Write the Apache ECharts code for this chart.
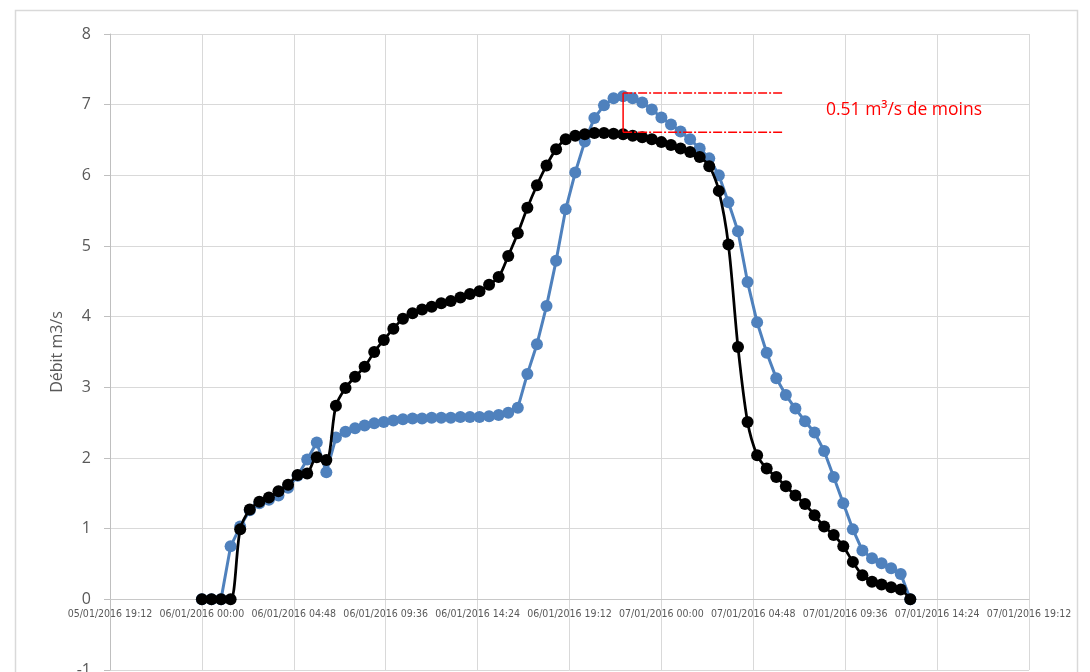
<!DOCTYPE html>
<html>
<head>
<meta charset="utf-8">
<script src="https://cdn.jsdelivr.net/npm/echarts@6/dist/echarts.min.js"></script>
<style>
html,body{margin:0;padding:0;background:#fff;}
#chart{width:1090px;height:672px;}
</style>
</head>
<body>
<div id="chart"></div>
<script>
// Timestamps of the measurements (dd/mm/yyyy hh:mm)
const times = [
'06/01/2016 00:00','06/01/2016 00:30','06/01/2016 01:00','06/01/2016 01:30','06/01/2016 02:00','06/01/2016 02:30',
'06/01/2016 03:00','06/01/2016 03:30','06/01/2016 04:00','06/01/2016 04:30','06/01/2016 05:00','06/01/2016 05:30',
'06/01/2016 06:00','06/01/2016 06:30','06/01/2016 07:00','06/01/2016 07:30','06/01/2016 08:00','06/01/2016 08:30',
'06/01/2016 09:00','06/01/2016 09:30','06/01/2016 10:00','06/01/2016 10:30','06/01/2016 11:00','06/01/2016 11:30',
'06/01/2016 12:00','06/01/2016 12:30','06/01/2016 13:00','06/01/2016 13:30','06/01/2016 14:00','06/01/2016 14:30',
'06/01/2016 15:00','06/01/2016 15:30','06/01/2016 16:00','06/01/2016 16:30','06/01/2016 17:00','06/01/2016 17:30',
'06/01/2016 18:00','06/01/2016 18:30','06/01/2016 19:00','06/01/2016 19:30','06/01/2016 20:00','06/01/2016 20:30',
'06/01/2016 21:00','06/01/2016 21:30','06/01/2016 22:00','06/01/2016 22:30','06/01/2016 23:00','06/01/2016 23:30',
'07/01/2016 00:00','07/01/2016 00:30','07/01/2016 01:00','07/01/2016 01:30','07/01/2016 02:00','07/01/2016 02:30',
'07/01/2016 03:00','07/01/2016 03:30','07/01/2016 04:00','07/01/2016 04:30','07/01/2016 05:00','07/01/2016 05:30',
'07/01/2016 06:00','07/01/2016 06:30','07/01/2016 07:00','07/01/2016 07:30','07/01/2016 08:00','07/01/2016 08:30',
'07/01/2016 09:00','07/01/2016 09:30','07/01/2016 10:00','07/01/2016 10:30','07/01/2016 11:00','07/01/2016 11:30',
'07/01/2016 12:00','07/01/2016 12:30','07/01/2016 13:00'
];

// Blue series (débit sans aménagement)
const blueValues = [
0,0,0,0.75,1.03,1.26,1.36,1.41,1.47,1.58,1.75,1.98,2.22,1.80,2.29,2.37,2.42,2.46,2.49,2.51,
2.53,2.55,2.56,2.56,2.57,2.57,2.57,2.58,2.58,2.58,2.59,2.61,2.64,2.71,3.19,3.61,4.15,4.79,5.52,6.04,
6.48,6.81,6.99,7.09,7.12,7.09,7.03,6.93,6.82,6.72,6.62,6.51,6.38,6.24,6.00,5.62,5.21,4.49,3.92,3.49,
3.13,2.89,2.70,2.52,2.36,2.10,1.73,1.36,0.99,0.69,0.58,0.51,0.44,0.36,0
];

// Black series (débit avec aménagement)
const blackValues = [
0,0,0,0,0.99,1.27,1.38,1.44,1.53,1.62,1.76,1.78,2.01,1.97,2.74,2.99,3.15,3.29,3.50,3.67,
3.83,3.97,4.05,4.10,4.14,4.19,4.22,4.27,4.32,4.36,4.45,4.56,4.86,5.18,5.54,5.86,6.14,6.37,6.51,6.56,
6.58,6.60,6.60,6.59,6.58,6.56,6.54,6.51,6.47,6.43,6.38,6.33,6.26,6.13,5.78,5.02,3.57,2.51,2.04,1.85,
1.73,1.60,1.47,1.35,1.19,1.03,0.91,0.75,0.53,0.34,0.25,0.21,0.17,0.14,0
];

// Axis tick labels (every 4h48)
const xTickLabels = [
'05/01/2016 19:12','06/01/2016 00:00','06/01/2016 04:48','06/01/2016 09:36','06/01/2016 14:24',
'06/01/2016 19:12','07/01/2016 00:00','07/01/2016 04:48','07/01/2016 09:36','07/01/2016 14:24','07/01/2016 19:12'
];
const yTickLabels = ['-1','0','1','2','3','4','5','6','7','8'];

// Annotation (difference of peaks)
const annotTimes = ['06/01/2016 22:00','07/01/2016 06:24'];
const annotLevels = [7.165, 6.61];
const annotText = '0.51 m³/s de moins';

function toMinutes(s){
  const [d, t] = s.split(' ');
  const day = parseInt(d.slice(0,2),10);
  const [h, m] = t.split(':').map(Number);
  return (day - 5) * 1440 + h * 60 + m;
}
const xMin = toMinutes(xTickLabels[0]);
const xMax = toMinutes(xTickLabels[xTickLabels.length-1]);
const xStep = toMinutes(xTickLabels[1]) - xMin;

const xs = times.map(toMinutes);
const blueData = xs.map((x,i)=>[x, blueValues[i]]);
const blackData = xs.map((x,i)=>[x, blackValues[i]]);

function fmtX(v){
  const idx = Math.round((v - xMin)/xStep);
  return xTickLabels[idx] !== undefined ? xTickLabels[idx] : '';
}

const ax0 = toMinutes(annotTimes[0]);
const ax1 = toMinutes(annotTimes[1]);
const red = '#FF0000';

const W = 1090, H = 672;
const gridTop = 34, gridBottom = 2;
const yMin = -1, yMax = 8;
// distance (px) between the grid bottom and the zero line, so that the x axis sits on zero
const zeroOffset = (H - gridTop - gridBottom) * (0 - yMin) / (yMax - yMin);

function annotLine(points, type, width){
  return {
    type:'line', data:points, xAxisIndex:0, silent:true, z:6,
    symbol:'none', smooth:false, animation:false,
    lineStyle:{color:red, width:width, type:type},
    itemStyle:{color:red},
    emphasis:{disabled:true}, tooltip:{show:false}
  };
}

const chart = echarts.init(document.getElementById('chart'));
const option = {
  animation: false,
  backgroundColor: '#fff',
  grid: {left:110, right:61, top:gridTop, bottom:gridBottom, containLabel:false, outerBoundsMode:'none'},
  graphic: [
    {type:'rect', shape:{x:15.5, y:10.5, width:1062, height:720}, style:{fill:'none', stroke:'#D9D9D9', lineWidth:1.5}, z:-1, silent:true},
    {type:'text', left:826, top:101, style:{text:annotText, fill:red, font:'17.5px "Open Sans", "Noto Sans", sans-serif'}, z:100}
  ],
  xAxis: [{
    type:'value', min:xMin, max:xMax, interval:xStep,
    axisLine:{show:false},
    axisTick:{show:false},
    axisLabel:{show:false},
    splitLine:{show:true, lineStyle:{color:'#D9D9D9', width:1}}
  },{
    type:'value', min:xMin, max:xMax, interval:xStep, position:'bottom', offset:-zeroOffset,
    axisLine:{show:true, onZero:false, lineStyle:{color:'#C8C8C8', width:1}},
    axisTick:{show:false},
    axisLabel:{formatter:fmtX, color:'#595959', fontSize:10.5, fontFamily:'"Liberation Sans Narrow", "DejaVu Sans Condensed", sans-serif', margin:9, showMinLabel:true, showMaxLabel:true, hideOverlap:false},
    splitLine:{show:false}
  }],
  yAxis: {
    type:'value', min:yMin, max:yMax, interval:1,
    name:'Débit m3/s', nameLocation:'middle', nameGap:42,
    nameTextStyle:{color:'#595959', fontSize:16, fontFamily:'"Open Sans", "Noto Sans", sans-serif'},
    axisLine:{show:true, onZero:false, lineStyle:{color:'#BFBFBF', width:1}},
    axisTick:{show:true, length:6, lineStyle:{color:'#BFBFBF'}},
    axisLabel:{color:'#595959', fontSize:16, fontFamily:'"Open Sans", "Noto Sans", sans-serif', margin:19,
      formatter:(v)=>{const i=Math.round(v+1); return yTickLabels[i]!==undefined?yTickLabels[i]:'';}},
    splitLine:{show:true, lineStyle:{color:'#D9D9D9', width:1}}
  },
  series: [
    {
      type:'line', name:'blue', data:blueData, xAxisIndex:0,
      symbol:'circle', symbolSize:12, smooth:false,
      lineStyle:{color:'#4F81BD', width:3},
      itemStyle:{color:'#4F81BD'},
      z:2
    },
    {
      type:'line', name:'black', data:blackData, xAxisIndex:0,
      symbol:'circle', symbolSize:12, smooth:0.3,
      lineStyle:{color:'#000000', width:2.75},
      itemStyle:{color:'#000000'},
      z:3
    },
    annotLine([[ax0, annotLevels[0]],[ax1, annotLevels[0]]], [9,2,2,2], 1.3),
    annotLine([[ax0, annotLevels[1]],[ax1, annotLevels[1]]], [9,2,2,2], 1.3),
    annotLine([[ax0, annotLevels[0]],[ax0, annotLevels[1]]], 'solid', 1.5)
  ]
};
chart.setOption(option);
</script>
</body>
</html>
